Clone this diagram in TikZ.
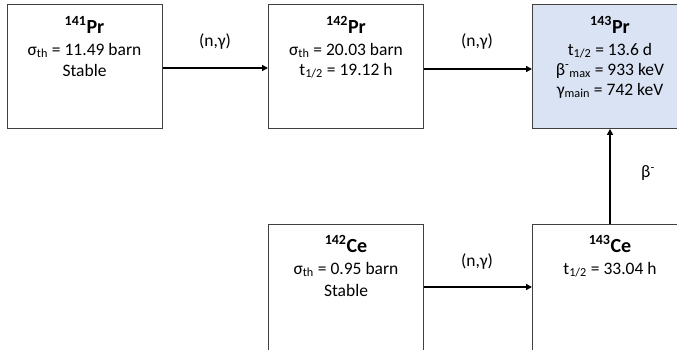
\documentclass[tikz,border=0pt]{standalone}
\usepackage{fontspec}
\setmainfont{Carlito}
\usetikzlibrary{arrows.meta}
\definecolor{boxblue}{HTML}{DAE3F3}
\definecolor{boxline}{HTML}{404040}
\begin{document}
\begin{tikzpicture}[x=1pt,y=-1pt,
  nucbox/.style={draw=boxline,line width=0.9pt,anchor=north west,minimum width=155pt,minimum height=#1,inner sep=0pt},
  nucbox/.default=124pt,
  ttl/.style={anchor=base,inner sep=0pt,font=\fontsize{20}{22}\selectfont\bfseries},
  txt/.style={anchor=base,inner sep=0pt,font=\fontsize{17.5}{20}\selectfont},
  lbl/.style={inner sep=0pt,font=\fontsize{17.5}{20}\selectfont},
  arr/.style={line width=2pt,-{Triangle[length=6pt,width=6pt]}}]
\useasboundingbox (0,0) rectangle (677,349);
\clip (0,0) rectangle (677,349);
% boxes
\node[nucbox] (p141) at (7,4) {};
\node[nucbox] (p142) at (268,4) {};
\node[nucbox, fill=boxblue] (p143) at (532,4) {};
\node[nucbox=140pt] (ce142) at (268,224) {};
\node[nucbox=140pt] (ce143) at (532,224) {};
% texts 141Pr
\node[ttl] (p141t) at (84.5,33) {\textsuperscript{141}Pr};
\node[txt] (p141a) at (84.5,55) {σ\textsubscript{th} = 11.49 barn};
\node[txt] (p141b) at (84.5,76) {Stable};
% 142Pr
\node[ttl] (p142t) at (346,33) {\textsuperscript{142}Pr};
\node[txt] (p142a) at (346,55) {σ\textsubscript{th} = 20.03 barn};
\node[txt] (p142b) at (346,75) {t\textsubscript{1/2} = 19.12 h};
% 143Pr
\node[ttl] (p143t) at (610,33) {\textsuperscript{143}Pr};
\node[txt] (p143a) at (610,55) {t\textsubscript{1/2} = 13.6 d};
\node[txt] (p143b) at (610,75) {β\textsuperscript{-}\textsubscript{max} = 933 keV};
\node[txt] (p143c) at (610,95) {γ\textsubscript{main} = 742 keV};
% 142Ce
\node[ttl] (ce142t) at (346,252) {\textsuperscript{142}Ce};
\node[txt] (ce142a) at (346,274) {σ\textsubscript{th} = 0.95 barn};
\node[txt] (ce142b) at (346,296) {Stable};
% 143Ce
\node[ttl] (ce143t) at (610,252) {\textsuperscript{143}Ce};
\node[txt] (ce143a) at (610,274) {t\textsubscript{1/2} = 33.04 h};
% arrows
\draw[arr] (p141.east |- 0,68) -- (p142.west |- 0,68);
\draw[arr] (p142.east |- 0,69) -- (p143.west |- 0,69);
\draw[arr] (ce142.east |- 0,287) -- (ce143.west |- 0,287);
\draw[arr] (ce143.north -| 610,0) -- (p143.south -| 610,0);
% labels
\node[lbl] (l1) at (215,41.5) {(n,γ)};
\node[lbl] (l2) at (477,41.5) {(n,γ)};
\node[lbl] (l3) at (477,261.5) {(n,γ)};
\node[lbl] (l4) at (648,173) {β\textsuperscript{-}};
\end{tikzpicture}
\end{document}
